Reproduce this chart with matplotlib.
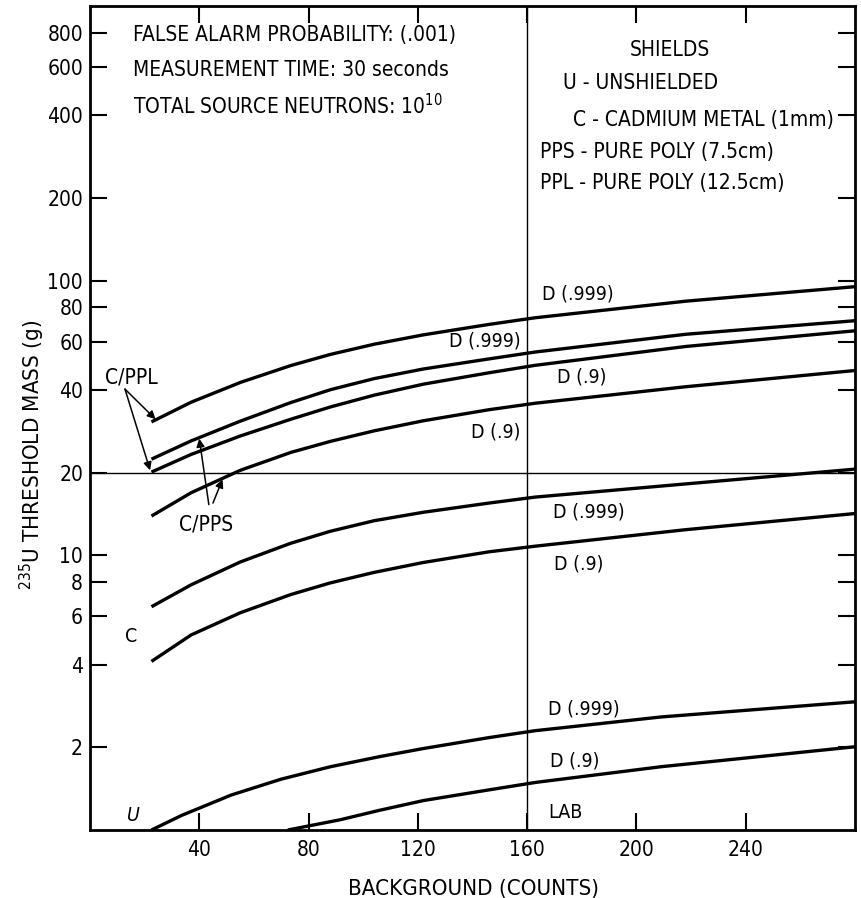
import matplotlib
matplotlib.use("Agg")
import matplotlib.pyplot as plt
from matplotlib import font_manager

# pick a condensed face like the typewriter-ish original
names = {f.name for f in font_manager.fontManager.ttflist}
if "Liberation Sans Narrow" in names:
    FONT = "Liberation Sans Narrow"
else:
    FONT = "DejaVu Sans"
    plt.rcParams["font.stretch"] = "condensed"
plt.rcParams["font.family"] = [FONT, "DejaVu Sans"]
plt.rcParams["mathtext.fontset"] = "custom"
plt.rcParams["mathtext.rm"] = FONT
plt.rcParams["mathtext.it"] = FONT

# background counts / threshold mass (g)
x_c = [22.5, 37, 55, 73.5, 88, 104, 122, 146, 163, 218, 280]
ppl_999 = [30.6, 36.1, 42.6, 49.1, 53.9, 58.7, 63.5, 69.3, 73.3, 84.2, 95.1]
pps_999 = [22.4, 26.1, 30.8, 36.0, 40.1, 44.0, 47.7, 51.9, 55.0, 63.8, 71.5]
ppl_9 = [20.1, 23.3, 27.2, 31.3, 34.7, 38.3, 42.0, 46.2, 49.2, 57.6, 65.7]
pps_9 = [13.9, 16.9, 20.4, 23.7, 26.0, 28.4, 30.9, 33.9, 35.8, 41.1, 47.1]
cd_999 = [6.5, 7.81, 9.46, 11.07, 12.24, 13.37, 14.35, 15.5, 16.3, 18.2, 20.6]
cd_9 = [4.11, 5.13, 6.18, 7.2, 7.94, 8.67, 9.42, 10.3, 10.8, 12.4, 14.2]

x_u999 = [22.5, 33.5, 51.6, 69.8, 88, 106, 122, 146, 163, 209, 280]
u_999 = [1.0, 1.13, 1.34, 1.53, 1.70, 1.85, 1.98, 2.17, 2.30, 2.58, 2.93]
x_u9 = [72.4, 91.6, 106, 122, 146, 163, 209, 280]
u_9 = [1.0, 1.09, 1.18, 1.28, 1.40, 1.49, 1.70, 2.01]

xticks = [40, 80, 120, 160, 200, 240]
yticks = [2, 4, 6, 8, 10, 20, 40, 60, 80, 100, 200, 400, 600, 800]

fig = plt.figure(figsize=(8.62, 8.98), dpi=100)
ax = fig.add_axes([0.1044, 0.0757, 0.8875, 0.9176])

for xs, ys in [(x_c, ppl_999), (x_c, pps_999), (x_c, ppl_9), (x_c, pps_9),
               (x_c, cd_999), (x_c, cd_9), (x_u999, u_999), (x_u9, u_9)]:
    ax.plot(xs, ys, color="black", lw=2.4, solid_capstyle="butt",
            solid_joinstyle="round")

ax.set_yscale("log")
ax.set_xlim(0, 280)
ax.set_ylim(1, 1000)
ax.axvline(160, color="black", lw=1)
ax.axhline(20, color="black", lw=1)

ax.set_xticks(xticks)
ax.set_xticklabels([str(v) for v in xticks])
ax.set_yticks(yticks)
ax.set_yticklabels([str(v) for v in yticks])
ax.yaxis.set_minor_locator(matplotlib.ticker.NullLocator())
ax.tick_params(direction="in", length=12, width=1.5, labelsize=15,
               top=True, right=True, pad=7)
ax.tick_params(axis="y", pad=5)
for s in ax.spines.values():
    s.set_linewidth(2)

# curve labels
lab = dict(fontsize=14, va="center")
ax.text(165.5, 89.7, "D (.999)", ha="left", **lab)
ax.text(157.5, 60.4, "D (.999)", ha="right", **lab)
ax.text(171, 44.6, "D (.9)", ha="left", **lab)
ax.text(157.5, 28.1, "D (.9)", ha="right", **lab)
ax.text(169.5, 14.35, "D (.999)", ha="left", **lab)
ax.text(170, 9.27, "D (.9)", ha="left", **lab)
ax.text(167.6, 2.76, "D (.999)", ha="left", **lab)
ax.text(168.4, 1.79, "D (.9)", ha="left", **lab)
ax.text(167.6, 1.154, "LAB", ha="left", **lab)
ax.text(15, 5.06, "C", ha="center", **lab)
ax.text(16, 1.13, "U", ha="center", style="italic", **lab)

arr = dict(arrowstyle="-|>", color="black", lw=1.1, mutation_scale=12,
           shrinkA=0, shrinkB=0)
ax.text(15, 44.6, "C/PPL", ha="center", fontsize=15, va="center")
ax.annotate("", xy=(24, 31.3), xytext=(12.8, 40.3), arrowprops=arr)
ax.annotate("", xy=(22, 20.4), xytext=(12.8, 40.3), arrowprops=arr)
ax.text(42.5, 12.9, "C/PPS", ha="center", fontsize=15, va="center")
ax.annotate("", xy=(40, 26.6), xytext=(43.5, 15.3), arrowprops=arr)
ax.annotate("", xy=(48.5, 18.9), xytext=(45, 15.5), arrowprops=arr)

# notes
note = dict(transform=ax.transAxes, fontsize=15, va="center", ha="left")
ax.text(0.056, 0.965, "FALSE ALARM PROBABILITY: (.001)", **note)
ax.text(0.056, 0.922, "MEASUREMENT TIME: 30 seconds", **note)
ax.text(0.056, 0.879, "TOTAL SOURCE NEUTRONS: $10^{10}$", **note)
ax.text(0.758, 0.947, "SHIELDS", transform=ax.transAxes, fontsize=15,
        va="center", ha="center")
ax.text(0.618, 0.907, "U - UNSHIELDED", **note)
ax.text(0.631, 0.862, "C - CADMIUM METAL (1mm)", **note)
ax.text(0.588, 0.823, "PPS - PURE POLY (7.5cm)", **note)
ax.text(0.588, 0.785, "PPL - PURE POLY (12.5cm)", **note)

fig.text(0.038, 0.493, "$^{235}$U THRESHOLD MASS (g)", rotation=90,
         ha="center", va="center", fontsize=16)
fig.text(0.549, 0.01, "BACKGROUND (COUNTS)", ha="center", va="center",
         fontsize=16)

fig.savefig("out.png", dpi=100)
